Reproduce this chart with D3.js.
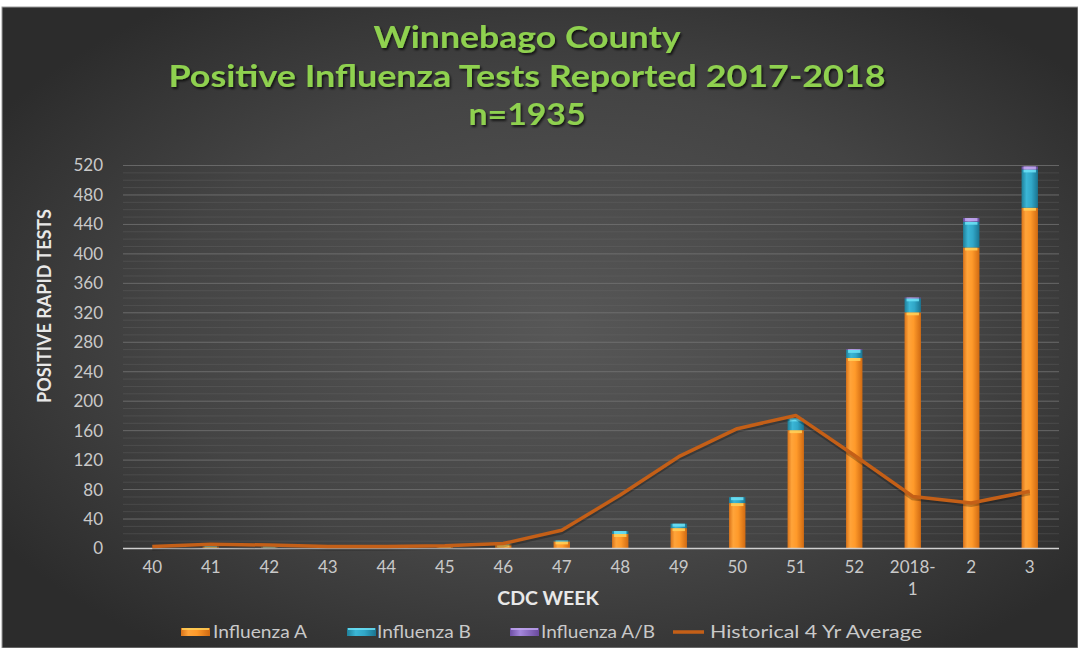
<!DOCTYPE html>
<html>
<head>
<meta charset="utf-8">
<script src="https://cdn.jsdelivr.net/npm/d3@7/dist/d3.min.js"></script>
<style>
  html, body { margin: 0; padding: 0; background: #ffffff; }
  svg { display: block; }
</style>
</head>
<body>
<svg id="chart" width="1078" height="648"></svg>
<script>
const weeks = ["40","41","42","43","44","45","46","47","48","49","50","51","52","2018-1","2","3"];
const fluA  = [0, 2, 1, 0, 0, 2, 5, 9, 19, 27, 61, 160, 258, 320, 408, 462];
const fluB  = [0, 1, 1, 0, 0, 2, 3, 1, 4, 6, 8, 16, 11, 19, 35, 52];
const fluAB = [0, 0, 0, 0, 0, 0, 0, 0, 0, 0, 0, 0, 1, 1, 5, 4];
const histAvg = [2, 5, 4, 2, 2, 3, 6, 24, 72, 124, 162, 180, 126, 70, 61, 77];
const yTicks = [0, 40, 80, 120, 160, 200, 240, 280, 320, 360, 400, 440, 480, 520];
const titleLines = ["Winnebago County", "Positive Influenza Tests Reported 2017-2018", "n=1935"];
const seriesNames = ["Influenza A", "Influenza B", "Influenza A/B", "Historical 4 Yr Average"];

const svg = d3.select("#chart");
const W = 1078, H = 648;
const FONT = "Lato, 'Open Sans', sans-serif";
const defs = svg.append("defs");

// background
const bg = defs.append("radialGradient").attr("id", "bg")
  .attr("cx", "52%").attr("cy", "50%").attr("r", "62%");
bg.append("stop").attr("offset", "0%").attr("stop-color", "#575757");
bg.append("stop").attr("offset", "60%").attr("stop-color", "#444444");
bg.append("stop").attr("offset", "100%").attr("stop-color", "#2c2c2c");

svg.append("rect").attr("x", 0).attr("y", 0).attr("width", W).attr("height", H).attr("fill", "#ffffff");
svg.append("rect").attr("x", 2).attr("y", 7).attr("width", W - 2).attr("height", H - 7)
  .attr("fill", "url(#bg)").attr("stroke", "#9a9a9a").attr("stroke-width", 1);

// bar gradients
function hGrad(id, stops) {
  const g = defs.append("linearGradient").attr("id", id).attr("x1", "0%").attr("x2", "100%").attr("y1", "0%").attr("y2", "0%");
  stops.forEach(s => g.append("stop").attr("offset", s[0]).attr("stop-color", s[1]));
}
hGrad("gA", [["0%", "#d9731a"], ["25%", "#ffa43a"], ["55%", "#ff9a2a"], ["100%", "#d06a12"]]);
hGrad("gB", [["0%", "#1f7f99"], ["30%", "#3bb6d6"], ["60%", "#31a7c8"], ["100%", "#1a7390"]]);
hGrad("gAB", [["0%", "#6e4fa6"], ["35%", "#a487dc"], ["100%", "#6a4a9e"]]);

const shadow = defs.append("filter").attr("id", "tshadow").attr("x", "-5%").attr("y", "-20%").attr("width", "110%").attr("height", "150%");
shadow.append("feDropShadow").attr("dx", 1.5).attr("dy", 2).attr("stdDeviation", 1.2).attr("flood-color", "#000").attr("flood-opacity", 0.7);

// scales
const x = d3.scaleBand().domain(weeks).range([123, 1059]).paddingInner(0.72).paddingOuter(0.36);
const y = d3.scaleLinear().domain([0, 520]).range([548, 165]);

// minor gridlines
const minor = d3.range(0, 521, 10);
svg.append("g").selectAll("line").data(minor).join("line")
  .attr("x1", 123).attr("x2", 1059)
  .attr("y1", d => y(d) + 0.5).attr("y2", d => y(d) + 0.5)
  .attr("stroke", "#6a6a6a").attr("stroke-opacity", 0.35).attr("stroke-width", 1);
// major gridlines
svg.append("g").selectAll("line").data(yTicks.filter(d => d > 0)).join("line")
  .attr("x1", 123).attr("x2", 1059)
  .attr("y1", d => y(d) + 0.5).attr("y2", d => y(d) + 0.5)
  .attr("stroke", "#7a7a7a").attr("stroke-opacity", 0.6).attr("stroke-width", 1);

// y axis
const yAxis = d3.axisLeft(y).tickValues(yTicks).tickSize(0).tickPadding(0);
const yg = svg.append("g").attr("transform", "translate(103,0)").call(yAxis);
yg.select(".domain").remove();
yg.selectAll("text").attr("fill", "#c9c9c9").attr("font-family", FONT)
  .attr("font-size", 17).attr("dy", "0.35em");

// stacked data
const stackData = weeks.map((w, i) => ({ week: w, A: fluA[i], B: fluB[i], AB: fluAB[i] }));
const stack = d3.stack().keys(["A", "B", "AB"])(stackData);
const fills = { A: "url(#gA)", B: "url(#gB)", AB: "url(#gAB)" };
const caps = { A: "#ffd25a", B: "#6fe3f7", AB: "#c2a8f0" };
const bw = x.bandwidth();

stack.forEach(layer => {
  const g = svg.append("g");
  layer.forEach(d => {
    const h = y(d[0]) - y(d[1]);
    if (h <= 0) return;
    const xx = x(d.data.week);
    g.append("rect").attr("x", xx).attr("y", y(d[1])).attr("width", bw).attr("height", h)
      .attr("fill", fills[layer.key]);
    g.append("rect").attr("x", xx + 2).attr("y", y(d[1])).attr("width", bw - 4).attr("height", Math.min(3, h))
      .attr("fill", caps[layer.key]).attr("opacity", 0.85);
  });
});

// x axis line
svg.append("line").attr("x1", 123).attr("x2", 1059).attr("y1", 548.5).attr("y2", 548.5)
  .attr("stroke", "#d0d0d0").attr("stroke-width", 1.5);

// historical line
const line = d3.line().x((d, i) => x(weeks[i]) + bw / 2).y(d => y(d));
svg.append("path").datum(histAvg).attr("d", line).attr("fill", "none")
  .attr("stroke", "#000").attr("stroke-opacity", 0.25).attr("stroke-width", 5)
  .attr("transform", "translate(0,1.5)");
svg.append("path").datum(histAvg).attr("d", line).attr("fill", "none")
  .attr("stroke", "#c45f17").attr("stroke-width", 3.5).attr("stroke-linejoin", "round");

// x tick labels
const xg = svg.append("g");
weeks.forEach(w => {
  const parts = w === "2018-1" ? ["2018-", "1"] : [w];
  const t = xg.append("text").attr("x", x(w) + bw / 2).attr("y", 573)
    .attr("text-anchor", "middle").attr("fill", "#c9c9c9")
    .attr("font-family", FONT).attr("font-size", 17);
  parts.forEach((p, i) => t.append("tspan").attr("x", x(w) + bw / 2).attr("dy", i === 0 ? 0 : 22).text(p));
});

// axis titles
svg.append("text").attr("x", 548).attr("y", 605).attr("text-anchor", "middle")
  .attr("fill", "#e8e8e8").attr("font-weight", "bold").attr("font-family", FONT)
  .attr("font-size", 19.5).text("CDC WEEK");
svg.append("text").attr("transform", "translate(51,306) rotate(-90)").attr("text-anchor", "middle")
  .attr("fill", "#e8e8e8").attr("font-weight", "bold").attr("font-family", FONT)
  .attr("font-size", 18).text("POSITIVE RAPID TESTS");

// title
const titleWidths = [307, 717, 117];
titleLines.forEach((t, i) => {
  svg.append("text").attr("x", 527).attr("y", [48, 87, 125][i]).attr("text-anchor", "middle")
    .attr("fill", "#8fd14f").attr("font-weight", "bold").attr("font-family", FONT)
    .attr("font-size", 30).attr("textLength", titleWidths[i]).attr("lengthAdjust", "spacingAndGlyphs")
    .attr("filter", "url(#tshadow)").text(t);
});

// legend
const legendItems = [
  { name: seriesNames[0], type: "bar", fill: "url(#gA)", cap: "#ffd25a", sx: 181, tx: 213, w: 94 },
  { name: seriesNames[1], type: "bar", fill: "url(#gB)", cap: "#6fe3f7", sx: 347, tx: 377, w: 94 },
  { name: seriesNames[2], type: "bar", fill: "url(#gAB)", cap: "#c2a8f0", sx: 510, tx: 541, w: 114 },
  { name: seriesNames[3], type: "line", sx: 673, tx: 710, w: 212 }
];
const lg = svg.append("g");
legendItems.forEach(d => {
  if (d.type === "bar") {
    lg.append("rect").attr("x", d.sx).attr("y", 628).attr("width", 29).attr("height", 8).attr("fill", d.fill);
    lg.append("rect").attr("x", d.sx + 1).attr("y", 628).attr("width", 27).attr("height", 2).attr("fill", d.cap).attr("opacity", 0.8);
  } else {
    lg.append("line").attr("x1", d.sx).attr("x2", d.sx + 31).attr("y1", 632).attr("y2", 632)
      .attr("stroke", "#c45f17").attr("stroke-width", 3.5);
  }
  lg.append("text").attr("x", d.tx).attr("y", 638).attr("fill", "#c9c9c9")
    .attr("font-family", FONT).attr("font-size", 17)
    .attr("textLength", d.w).attr("lengthAdjust", "spacingAndGlyphs").text(d.name);
});
</script>
</body>
</html>
